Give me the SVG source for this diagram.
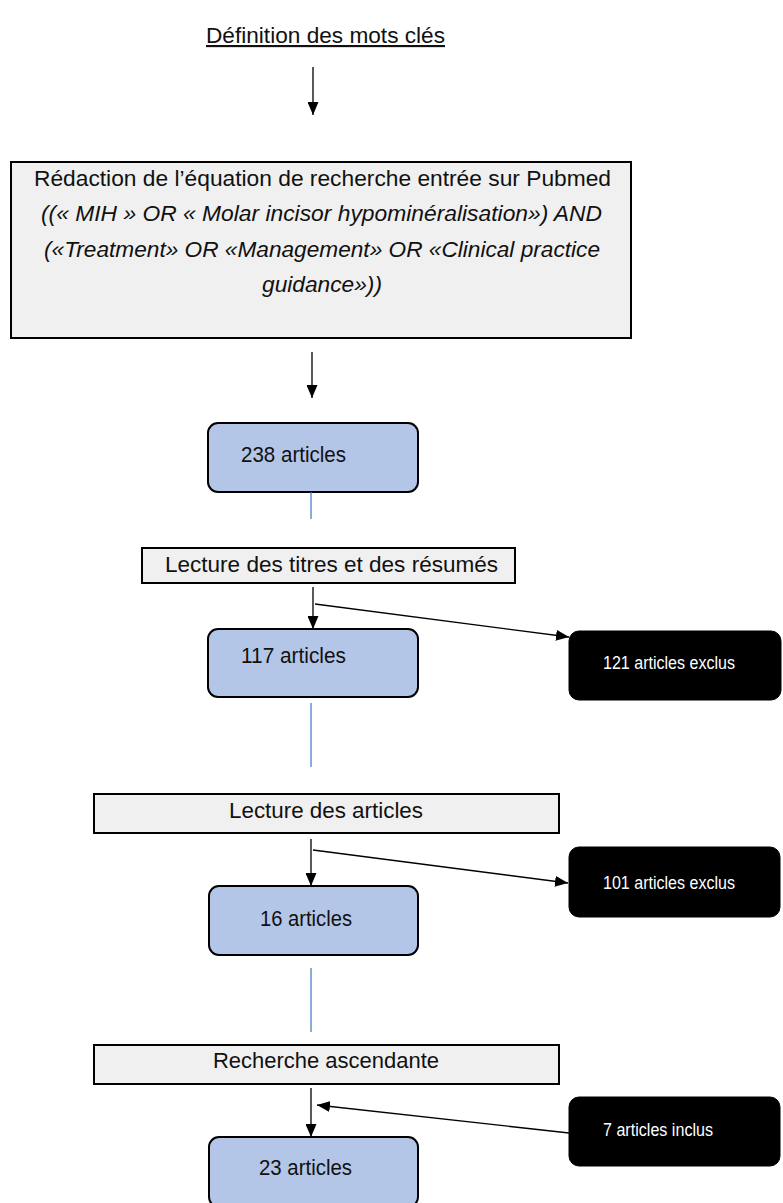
<svg xmlns="http://www.w3.org/2000/svg" width="783" height="1203" viewBox="0 0 783 1203">
<defs>
<marker id="ah" viewBox="0 0 13 11" refX="13" refY="5.5" markerWidth="13" markerHeight="11" markerUnits="userSpaceOnUse" orient="auto">
<path d="M0,0 L13,5.5 L0,11 Z" fill="#000"/>
</marker>
<style>
text{font-family:"Liberation Sans",Arial,sans-serif;fill:#111;}
.t{font-size:21.5px;}
.it{font-size:21.5px;font-style:italic;}
.w{font-size:17.5px;fill:#fff;}
.grey{fill:#f0f0f0;stroke:#000;stroke-width:2;}
.blue{fill:#b4c6e7;stroke:#000;stroke-width:2;}
.dark{fill:#000;stroke:#000;stroke-width:1;}
.arr{stroke:#000;stroke-width:1.3;fill:none;marker-end:url(#ah);}
.bl{stroke:#4472c4;stroke-width:1.2;fill:none;}
</style>
</defs>
<rect width="783" height="1203" fill="#ffffff"/>

<g id="title">
<text class="t" x="206" y="43" textLength="239" lengthAdjust="spacingAndGlyphs" text-decoration="underline">Définition des mots clés</text>
</g>

<g id="equation">
<rect class="grey" x="11" y="162" width="620" height="176"/>
<text class="t" x="34" y="186" textLength="577" lengthAdjust="spacingAndGlyphs">Rédaction de l’équation de recherche entrée sur Pubmed</text>
<text class="it" x="41" y="221" textLength="561" lengthAdjust="spacingAndGlyphs">((« MIH » OR « Molar incisor hypominéralisation») AND</text>
<text class="it" x="44" y="257" textLength="556" lengthAdjust="spacingAndGlyphs">(«Treatment» OR «Management» OR «Clinical practice</text>
<text class="it" x="262" y="292" textLength="120" lengthAdjust="spacingAndGlyphs">guidance»))</text>
</g>

<g id="n238">
<rect class="blue" x="208" y="423" width="210" height="69" rx="10"/>
<text class="t" x="241" y="462" textLength="105" lengthAdjust="spacingAndGlyphs">238 articles</text>
</g>

<g id="lecture-titres">
<rect class="grey" x="142" y="548" width="373" height="35"/>
<text class="t" x="165" y="572" textLength="333" lengthAdjust="spacingAndGlyphs">Lecture des titres et des résumés</text>
</g>

<g id="n117">
<rect class="blue" x="208" y="629" width="210" height="68" rx="10"/>
<text class="t" x="241" y="663" textLength="105" lengthAdjust="spacingAndGlyphs">117 articles</text>
</g>

<g id="excl121">
<rect class="dark" x="569" y="631" width="212" height="69" rx="10"/>
<text class="w" x="603" y="669" textLength="132" lengthAdjust="spacingAndGlyphs">121 articles exclus</text>
</g>

<g id="lecture-articles">
<rect class="grey" x="94" y="794" width="465" height="39"/>
<text class="t" x="229" y="818" textLength="194" lengthAdjust="spacingAndGlyphs">Lecture des articles</text>
</g>

<g id="excl101">
<rect class="dark" x="569" y="847" width="211" height="70" rx="10"/>
<text class="w" x="603" y="889" textLength="132" lengthAdjust="spacingAndGlyphs">101 articles exclus</text>
</g>

<g id="n16">
<rect class="blue" x="209" y="886" width="209" height="69" rx="10"/>
<text class="t" x="260" y="926" textLength="92" lengthAdjust="spacingAndGlyphs">16 articles</text>
</g>

<g id="recherche">
<rect class="grey" x="94" y="1045" width="465" height="39"/>
<text class="t" x="213" y="1068" textLength="226" lengthAdjust="spacingAndGlyphs">Recherche ascendante</text>
</g>

<g id="incl7">
<rect class="dark" x="569" y="1097" width="211" height="69" rx="10"/>
<text class="w" x="603" y="1136" textLength="110" lengthAdjust="spacingAndGlyphs">7 articles inclus</text>
</g>

<g id="n23">
<rect class="blue" x="209" y="1137" width="209" height="70" rx="10"/>
<text class="t" x="259" y="1175" textLength="93" lengthAdjust="spacingAndGlyphs">23 articles</text>
</g>

<g id="connectors">
<line class="arr" x1="313" y1="67" x2="313" y2="115"/>
<line class="arr" x1="312" y1="352" x2="312" y2="398"/>
<line class="bl" x1="311" y1="492" x2="311" y2="519"/>
<line class="arr" x1="313" y1="587" x2="313" y2="629"/>
<line class="arr" x1="315" y1="604" x2="569" y2="637"/>
<line class="bl" x1="311" y1="703" x2="311" y2="767"/>
<line class="arr" x1="311" y1="839" x2="311" y2="886"/>
<line class="arr" x1="313" y1="850" x2="568" y2="883"/>
<line class="bl" x1="311" y1="968" x2="311" y2="1032"/>
<line class="arr" x1="311" y1="1088" x2="311" y2="1137"/>
<line class="arr" x1="569" y1="1133" x2="317" y2="1105"/>
</g>
</svg>
